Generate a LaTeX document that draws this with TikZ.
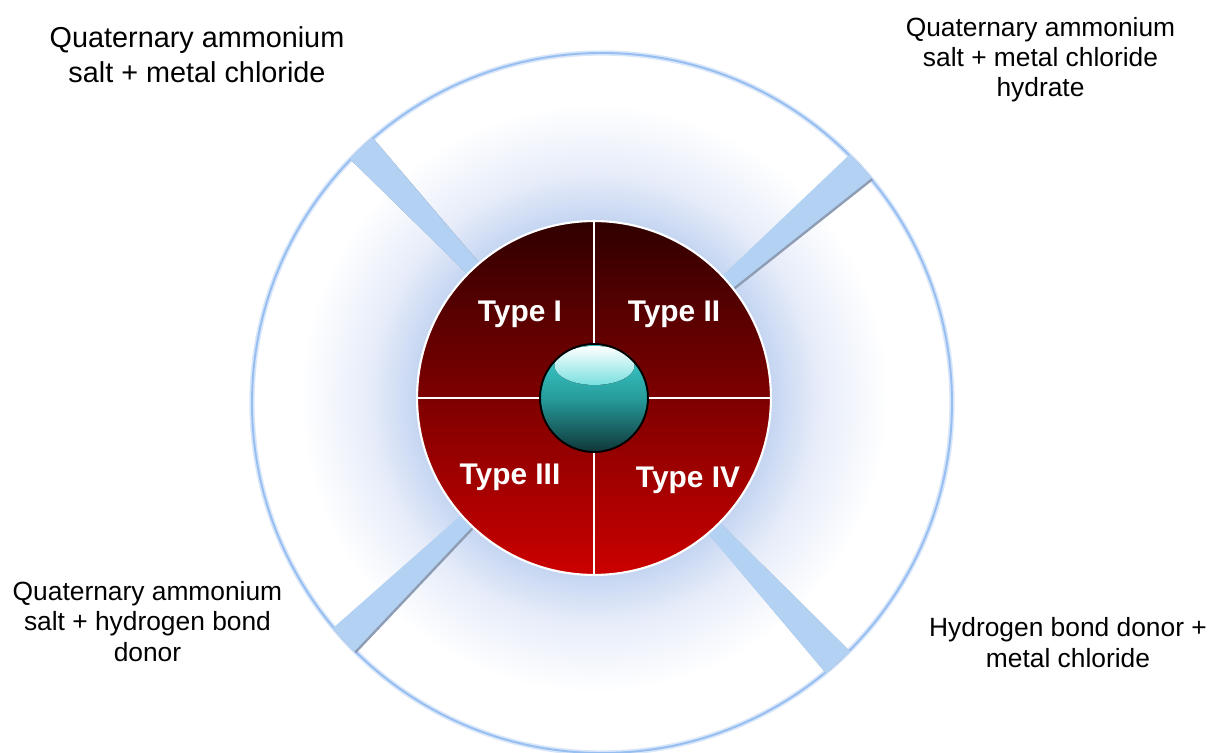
\documentclass[tikz,border=0pt]{standalone}
\usepackage{fontspec}
\setmainfont{Liberation Sans}
\usepackage{xcolor}
\usepackage{tikz}
\usetikzlibrary{calc}
\definecolor{ringblue}{HTML}{96BEF0}
\definecolor{ringhalo}{HTML}{D8E6FA}
\definecolor{ringshadow}{HTML}{9AA5B8}
\definecolor{glowblue}{HTML}{C6D6F2}
\definecolor{glowmid}{HTML}{E6ECF9}
\definecolor{barblue}{HTML}{B2D1F3}
\definecolor{barshadow}{HTML}{8E9CB4}
\definecolor{coretop}{HTML}{300000}
\definecolor{corebot}{HTML}{CC0000}
\definecolor{balltop}{HTML}{40D2D2}
\definecolor{ballmid}{HTML}{279C9C}
\definecolor{ballbot}{HTML}{0F3638}
\pgfdeclareradialshading{ringglow}{\pgfpoint{0bp}{0bp}}{color(0bp)=(glowblue); color(14bp)=(glowblue); color(17.5bp)=(glowmid); color(23bp)=(white); color(50bp)=(white)}

\begin{document}
\begin{tikzpicture}[x=0.02cm,y=0.02cm]
  \tikzstyle{lbl}=[align=center,inner sep=0pt,font=\fontsize{15}{17.3}\selectfont]
  \tikzstyle{typ}=[anchor=base,inner sep=0pt,text=white,font=\fontsize{17}{20}\selectfont\bfseries]
  \tikzstyle{bar}=[fill=barblue]
  \tikzstyle{barshade}=[fill=barshadow,shift={(1.8,-1.8)}]
  \useasboundingbox (-594,-355) rectangle (620,398);
  \coordinate (o) at (0,0);
  \coordinate (rc) at (8,-5);
  \fill[white] (rc) circle (350);
  \shade[shading=ringglow] (o) circle (320);
  \draw[ringshadow,line width=1.2pt,shift={(1.5,-1.5)}] (rc) circle (350);
  \draw[ringhalo,line width=3pt] (rc) circle (350);
  \draw[ringblue,line width=1.1pt] (rc) circle (350);
  \begin{scope}
    \clip (rc) circle (351);
    \foreach \a in {133,41,224,312.7}{
      \fill[barshade] ({\a-2.6}:170) -- ({\a-2.6}:420) -- ({\a+2.6}:420) -- ({\a+2.6}:170) -- cycle;
      \fill[bar] ({\a-2.6}:170) -- ({\a-2.6}:420) -- ({\a+2.6}:420) -- ({\a+2.6}:170) -- cycle;
    }
  \end{scope}
  \node[circle,inner sep=0pt,minimum size=7.08cm,draw=white,line width=1.2pt,top color=coretop,bottom color=corebot] (core) at (o) {};
  \draw[white,line width=1.1pt] (core.north) -- (core.south);
  \draw[white,line width=1.1pt] (core.west) -- (core.east);
  \node[circle,inner sep=0pt,minimum size=2.16cm,top color=balltop,bottom color=ballbot,middle color=ballmid] (ball) at (o) {};
  \fill[top color=white,bottom color=balltop!70!white] (0.5,32.5) ellipse (40 and 19.5);
  \draw[black,line width=1.1pt] (ball.center) circle (54);
  \node[typ] (t1) at (-74,76) {Type I};
  \node[typ] (t2) at (80,76) {Type II};
  \node[typ] (t3) at (-84,-87) {Type III};
  \node[typ] (t4) at (94,-90) {Type IV};
  \node[lbl,font=\fontsize{16.4}{19.8}\selectfont] (qmc) at (-397,343.5) {Quaternary ammonium\\salt + metal chloride};
  \node[lbl] (qmch) at (446.5,338.4) {Quaternary ammonium\\salt + metal chloride\\hydrate};
  \node[lbl] (qhbd) at (-446.5,-223.5) {Quaternary ammonium\\salt + hydrogen bond\\donor};
  \node[lbl] (hbdm) at (474,-244.5) {Hydrogen bond donor +\\metal chloride};
\end{tikzpicture}
\end{document}
